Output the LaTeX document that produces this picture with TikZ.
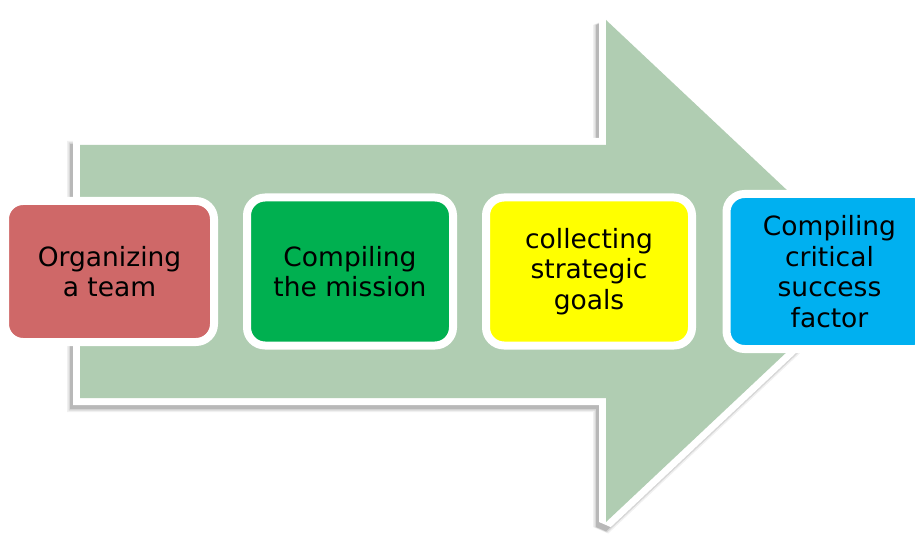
\documentclass[tikz,border=0pt]{standalone}
\usepackage{fontspec}
\setmainfont{DejaVu Sans}
\begin{document}
\begin{tikzpicture}[x=1pt,y=-1pt,
  arrowbody/.style={fill=sage},
  stepbox/.style={rectangle, rounded corners=18pt, draw=white, line width=8pt,
    inner sep=0pt, align=center, text=black,
    font=\fontsize{26.5}{30.5}\selectfont},
]
\definecolor{sage}{RGB}{176,205,178}
\definecolor{boxred}{RGB}{207,104,104}
\definecolor{boxgreen}{RGB}{0,176,80}
\definecolor{boxyellow}{RGB}{255,255,0}
\definecolor{boxblue}{RGB}{0,176,240}
\useasboundingbox (0,0) rectangle (915,548);
\clip (0,0) rectangle (915,548);
\fill[white] (0,0) rectangle (915,548);

% outline of the big arrow
\def\arrowpath{(80,145) -- (606,145) -- (606,20) -- (873,271) -- (606,522) -- (606,398) -- (80,398) -- cycle}

% soft drop shadow under the arrow, cast down and to the left
\begin{scope}[shift={(-4,5)}]
  \draw[black, opacity=0.06, line width=18pt, miter limit=2] \arrowpath;
  \draw[black, opacity=0.10, line width=15pt, miter limit=2] \arrowpath;
  \draw[black, opacity=0.14, line width=12pt, miter limit=2] \arrowpath;
\end{scope}

% white rim and green body
\draw[white, line width=14pt, miter limit=2] \arrowpath;
\fill[arrowbody] \arrowpath;

% the four steps
\node[stepbox, fill=boxred, minimum width=209pt, minimum height=141pt]
  (team) at (109.5,271.5) {Organizing\\a team};
\node[stepbox, fill=boxgreen, minimum width=206pt, minimum height=148pt]
  (mission) at (350,271.5) {Compiling\\the mission};
\node[stepbox, fill=boxyellow, minimum width=206pt, minimum height=148pt]
  (goals) at (589,271.5) {collecting\\strategic\\goals};
\node[stepbox, fill=boxblue, minimum width=206pt, minimum height=155pt]
  (csf) at (829.5,271.5) {Compiling\\critical\\success\\factor};
\end{tikzpicture}
\end{document}
